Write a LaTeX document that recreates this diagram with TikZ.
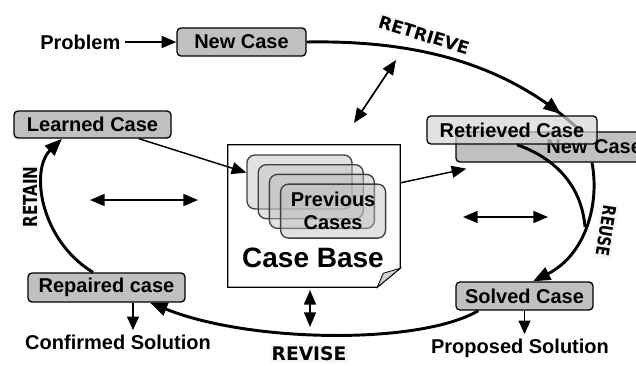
\documentclass[tikz,border=0pt]{standalone}
\usepackage{fontspec}
\setmainfont{Liberation Sans}
\newfontfamily\phasefont{DejaVu Sans}
\newfontfamily\phasecondfont{DejaVu Sans}[FakeStretch=0.78]
\usepackage{xcolor}
\usetikzlibrary{positioning,arrows.meta,calc,decorations.markings}
\definecolor{boxgray}{RGB}{192,192,192}
\definecolor{lightbox}{RGB}{214,214,214}

\begin{document}
\begin{tikzpicture}[x=0.75pt,y=-0.75pt,
	casenode/.style={rectangle, rounded corners=3pt, draw, line width=1pt, fill=boxgray, font=\bfseries\fontsize{15}{17}\selectfont, inner sep=0pt},
	plainnode/.style={font=\bfseries\fontsize{15}{17}\selectfont},
	stacknode/.style={rectangle, rounded corners=6pt, draw=black!75, line width=1pt, fill=gray!50, fill opacity=0.45, minimum width=78.75pt, minimum height=40.5pt},
	phase/.style={fill=gray!6, inner sep=1.5pt, font=\phasefont\bfseries\fontsize{13}{13}\selectfont},
	cyclearc/.style={line width=2.2pt, -{Triangle[length=13pt,width=10pt]}},
	flow/.style={line width=1.1pt, -{Triangle[length=11pt,width=9pt]}},
	twoway/.style={line width=1.3pt, {Triangle[length=11pt,width=9pt]}-{Triangle[length=11pt,width=9pt]}},
	outarrow/.style={line width=0.9pt, -{Triangle[length=10pt,width=9pt]}},
	]
	\useasboundingbox (0,0) rectangle (636,365);

	%Nodes
	\node[casenode, minimum width=96.75pt, minimum height=21pt] (newcase) at (241.5,42) {New Case};
	\node[plainnode, left=38.5pt of newcase] (problem) {Problem};
	\node[casenode, minimum width=117.75pt, minimum height=20.25pt] (learned) at (92.5,124.5) {Learned Case};
	\node[casenode, minimum width=117.75pt, minimum height=21.75pt] (repaired) at (106.5,287.5) {Repaired case};
	\node[casenode, minimum width=102.75pt, minimum height=21pt] (solved) at (524.5,296) {Solved Case};
	\node[plainnode] (confirmed) at (118,342) {Confirmed Solution};
	\node[plainnode] (proposed) at (520,348) {Proposed Solution};
	\node[casenode, minimum height=22.5pt, inner xsep=6pt, text width=133.5pt, align=right] (nc2) at (553,147) {New Case};

	%Case base
	\node[minimum width=129pt, minimum height=106.5pt, inner sep=0pt] (casebase) at (314,216) {};
	\draw[line width=0.8pt, fill=white] (casebase.north west) -- (casebase.north east) -- ($(casebase.south east)+(0,-19)$) -- ($(casebase.south east)+(-23,0)$) -- (casebase.south west) -- cycle;
	\draw[line width=0.6pt, fill=gray!35] ($(casebase.south east)+(0,-19)$) -- ($(casebase.south east)+(-17,-14)$) -- ($(casebase.south east)+(-23,0)$) -- cycle;
	\foreach \i in {1,...,4}
		\node[stacknode] (prev\i) at ({299.5+11.2*(\i-1)},{182+9.7*(\i-1)}) {};
	\node[plainnode, font=\bfseries\fontsize{15}{17.25}\selectfont, align=center] (prevtext) at (prev4.center) {Previous\\Cases};
	\node[font=\bfseries\fontsize{21}{24}\selectfont] (cbtext) at (313,258) {Case Base};

	%Labels
	\node[phase, rotate=-17] (retrievelbl) at (424,35) {RETRIEVE};
	\node[phase, font=\phasecondfont\bfseries\fontsize{14.5}{14.5}\selectfont, rotate=90] (retainlbl) at (30,197) {RETAIN};
	\node[phase, font=\phasecondfont\bfseries\fontsize{13.5}{13.5}\selectfont, rotate=-99] (reuselbl) at (606,231) {REUSE};
	\node[phase, font=\phasefont\bfseries\fontsize{14}{14}\selectfont] (reviselbl) at (309,354) {REVISE};

	%Free ends
	\coordinate (topA) at (396,60);
	\coordinate (topB) at (354,123);
	\coordinate (leftA) at (90,200);
	\coordinate (leftB) at (198,200);
	\coordinate (rightA) at (463,217);
	\coordinate (rightB) at (548,217);
	\coordinate (lowA) at (310,290);
	\coordinate (lowB) at (310,327);
	\coordinate (reusejoin) at (585,227);
	\coordinate (rpout) at ($(repaired.south)+(26.5,0)$);

	%Lines
	\draw[line width=2.2pt, decoration={markings, mark=at position 0.91 with {\arrow{Triangle[length=13pt,width=10pt]}}}, postaction={decorate}]
		(newcase.east) .. controls (420,40) and (510,65) .. ($(nc2.north)+(28,0)$);
	\draw[cyclearc] ($(nc2.south)+(39,0)$) .. controls (600,205) and (585,255) .. ($(solved.north)+(8.5,0)$);
	\draw[cyclearc] ($(solved.south west)+(23,0)$) .. controls (420,345) and (250,343) .. ($(repaired.south)+(43.5,0)$);
	\draw[cyclearc] ($(repaired.north)+(-13.5,0)$) .. controls (40,240) and (30,170) .. ($(learned.south)+(-30.5,0)$);

	\draw[flow] (problem) -- (newcase);
	\draw[flow] (learned.343) -- (prev1.170);
	\draw[flow] (casebase.21) -- ($(nc2.south west)+(11,6)$);
	\draw[outarrow] (rpout) -- (rpout |- confirmed.north);
	\draw[outarrow] (solved.south) -- (solved.south |- proposed.north);

	\draw[twoway] (topA) -- (topB);
	\draw[twoway] (leftA) -- (leftB);
	\draw[twoway] (rightA) -- (rightB);
	\draw[twoway] (lowA) -- (lowB);

	%Retrieved case on top
	\node[casenode, fill=lightbox, fill opacity=0.7, text opacity=1, minimum width=127.5pt, minimum height=21pt] (retrieved) at (512,130) {Retrieved Case};
	\draw[line width=2.2pt] ($(retrieved.south)+(5,0)$) .. controls (560,160) and (582,190) .. (reusejoin);

\end{tikzpicture}
\end{document}
